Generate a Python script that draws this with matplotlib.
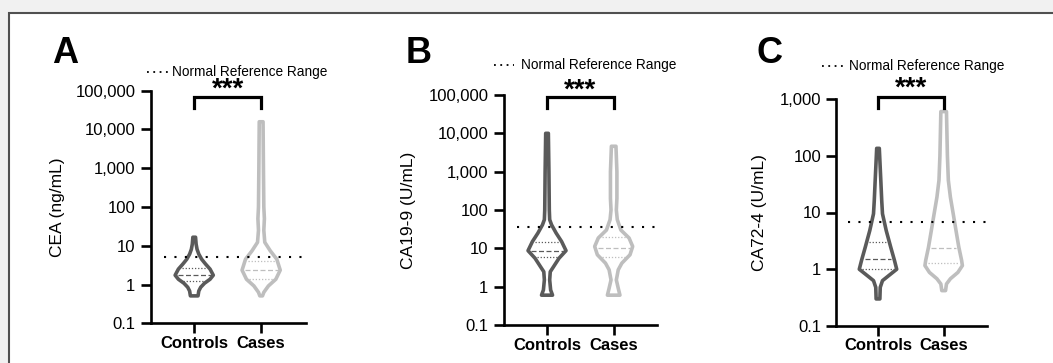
import numpy as np
import matplotlib
matplotlib.use('Agg')
import matplotlib.pyplot as plt
from matplotlib.patches import Rectangle

plt.rcParams['font.family'] = ['Liberation Sans', 'DejaVu Sans']

groups = ['Controls', 'Cases']
letters = ['A', 'B', 'C']
y_labels = ['CEA (ng/mL)', 'CA19-9 (U/mL)', 'CA72-4 (U/mL)']
ref_values = [5, 35, 6.9]
legend_text = 'Normal Reference Range'
stars = '***'

# violin outlines: level (top to bottom) and relative width
cea_ctrl_y = [16.6, 11, 8.1, 6.1, 4.5, 3.4, 2.5, 1.74, 1.37, 1.08, 0.85, 0.68, 0.51]
cea_ctrl_w = [0.07, 0.10, 0.15, 0.24, 0.39, 0.59, 0.83, 1.0, 0.83, 0.54, 0.34, 0.24, 0.2]
cea_case_y = [15800, 1000, 100, 50, 25, 12.3, 7.4, 4.5, 2.35, 1.37, 0.92, 0.63, 0.51]
cea_case_w = [0.1, 0.12, 0.14, 0.17, 0.14, 0.19, 0.48, 0.82, 1.0, 0.77, 0.38, 0.14, 0.07]

ca199_ctrl_y = [10000, 1000, 100, 56, 41, 25, 15, 8.7, 5.5, 3.3, 2.45, 1.5, 0.82, 0.6]
ca199_ctrl_w = [0.07, 0.1, 0.12, 0.14, 0.24, 0.48, 0.77, 1.0, 0.63, 0.34, 0.17, 0.14, 0.19, 0.29]
ca199_case_y = [4600, 1000, 200, 100, 56, 30, 18.6, 11.2, 6.8, 4.1, 2.75, 1.5, 0.91, 0.6]
ca199_case_w = [0.12, 0.17, 0.17, 0.14, 0.19, 0.38, 0.81, 1.0, 0.86, 0.43, 0.24, 0.14, 0.24, 0.33]

ca724_ctrl_y = [135, 37, 16, 9.5, 4.8, 2.45, 1.43, 1.0, 0.78, 0.63, 0.48, 0.3]
ca724_ctrl_w = [0.07, 0.15, 0.2, 0.24, 0.44, 0.68, 0.88, 1.0, 0.59, 0.24, 0.12, 0.1]
ca724_case_y = [600, 100, 37, 18.6, 9.5, 4.8, 2.45, 1.43, 1.16, 0.88, 0.68, 0.55, 0.42]
ca724_case_w = [0.15, 0.2, 0.25, 0.36, 0.51, 0.66, 0.81, 0.96, 1.0, 0.76, 0.36, 0.15, 0.1]

# quartiles: Q1, median, Q3
cea_ctrl_q = [1.24, 1.74, 2.6]
cea_case_q = [1.43, 2.35, 4.1]
ca199_ctrl_q = [5.9, 8.7, 15]
ca199_case_q = [6.1, 10.5, 19.6]
ca724_ctrl_q = [1.0, 1.53, 3.0]
ca724_case_q = [1.28, 2.4, None]

ticks_big = [0.1, 1, 10, 100, 1000, 10000, 100000]
ticks_big_lab = ['0.1', '1', '10', '100', '1,000', '10,000', '100,000']
ticks_small = [0.1, 1, 10, 100, 1000]
ticks_small_lab = ['0.1', '1', '10', '100', '1,000']

panels = [
    (cea_ctrl_y, cea_ctrl_w, cea_ctrl_q, cea_case_y, cea_case_w, cea_case_q, ticks_big, ticks_big_lab),
    (ca199_ctrl_y, ca199_ctrl_w, ca199_ctrl_q, ca199_case_y, ca199_case_w, ca199_case_q, ticks_big, ticks_big_lab),
    (ca724_ctrl_y, ca724_ctrl_w, ca724_ctrl_q, ca724_case_y, ca724_case_w, ca724_case_q, ticks_small, ticks_small_lab),
]

dark = '#5a5a5a'
light = '#bebebe'

W, H = 1053, 363
fig = plt.figure(figsize=(W / 100, H / 100), dpi=100)
fig.patch.set_facecolor('#f1f1f1')
fig.patches.append(Rectangle((9 / W, -0.05), 1.1, (H - 13) / H + 0.05, transform=fig.transFigure,
                             facecolor='white', edgecolor='#505050', lw=1.5, zorder=-10))

# axes boxes in pixels: left, right, top, bottom
boxes = [(150.7, 306, 90.7, 323.3), (503.7, 657, 95, 325), (836.3, 987, 99, 326)]
xlims = [(0.35, 2.67), (0.35, 2.65), (0.365, 2.66)]
brackets = [(3.5e4, 7e4), (4.7e4, 9e4), (700, 1100)]
star_base = [97, 97.7, 96]
letter_x = [65.5, 418.5, 769.5]
ylab_x = [65, 416, 767]
leg_pos = [(147, 168, 172, 72), (494, 514, 521, 65), (822, 844, 849, 66)]


def draw_violin(ax, pos, ys, ws, qs, color, hw=0.285):
    ys = np.array(ys, dtype=float)
    ws = np.array(ws) * hw
    xs = np.concatenate([pos + ws, (pos - ws)[::-1]])
    yy = np.concatenate([ys, ys[::-1]])
    ax.fill(xs, yy, facecolor='white', edgecolor=color, lw=2.6, joinstyle='round', zorder=3)
    for i, q in enumerate(qs):
        if q is None:
            continue
        w = np.interp(np.log10(q), np.log10(ys[::-1]), ws[::-1]) - 0.04
        ls = (0, (4, 2)) if i == 1 else (0, (1, 1.5))
        ax.plot([pos - w, pos + w], [q, q], color=color, lw=0.9, ls=ls, zorder=4)


for k, (cy, cw, cq, sy, sw, sq, tks, tlab) in enumerate(panels):
    l, r, t, b = boxes[k]
    ax = fig.add_axes([l / W, (H - b) / H, (r - l) / W, (b - t) / H])
    ax.set_facecolor('none')
    ax.set_yscale('log')
    ax.set_ylim(tks[0], tks[-1])
    ax.set_xlim(*xlims[k])
    ax.set_yticks(tks)
    ax.set_yticklabels(tlab)
    ax.yaxis.set_minor_locator(matplotlib.ticker.NullLocator())
    ax.set_xticks([1, 2])
    ax.set_xticklabels(groups, fontsize=14.5, fontweight='bold')
    for s in ['top', 'right']:
        ax.spines[s].set_visible(False)
    for s in ['left', 'bottom']:
        ax.spines[s].set_linewidth(1.9)
    ax.tick_params(axis='both', width=1.9, length=7, labelsize=12, pad=4)
    ax.tick_params(axis='x', pad=2)

    draw_violin(ax, 1, cy, cw, cq, dark)
    draw_violin(ax, 2, sy, sw, sq, light)

    ax.plot([0.55, xlims[k][1]], [ref_values[k]] * 2, color='black', lw=1.5,
            ls=(0, (1, 4)), zorder=5)

    leg_lo, top = brackets[k]
    ax.plot([1, 1, 2, 2], [leg_lo, top, top, leg_lo], color='black', lw=2.3,
            clip_on=False, solid_joinstyle='miter', zorder=6)
    ax.text(1.5, (b - star_base[k]) / (b - t), stars, transform=ax.get_xaxis_transform(),
            ha='center', va='baseline', fontsize=20, fontweight='bold', clip_on=False)

    ax.set_ylabel(y_labels[k], fontsize=12.5)
    ax.yaxis.set_label_coords((ylab_x[k] - l) / (r - l), 0.5)

    x0, x1, xt, yl = leg_pos[k]
    fx = lambda p: (p - l) / (r - l)
    fy = (b - yl) / (b - t)
    ax.plot([fx(x0), fx(x1)], [fy, fy], transform=ax.transAxes, color='black', lw=1.3,
            ls=(0, (1, 2.5)), clip_on=False)
    ax.text(fx(xt), fy, legend_text, transform=ax.transAxes, fontsize=9.8,
            ha='left', va='center')

    fig.text(letter_x[k] / W, (H - 63) / H, letters[k], fontsize=26, fontweight='bold',
             ha='center', va='baseline')

fig.savefig('out.png', dpi=100, facecolor=fig.get_facecolor())
